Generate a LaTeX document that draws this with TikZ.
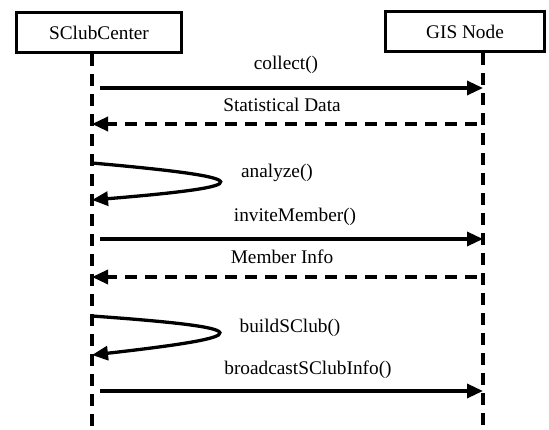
\documentclass[tikz,border=0pt]{standalone}
\usepackage{fontspec}
\setmainfont{Liberation Serif}
\newfontfamily\labelfont{Liberation Serif}
\usetikzlibrary{arrows.meta}
\begin{document}
\begin{tikzpicture}[x=1pt,y=-1pt,
  txt/.style={font=\labelfont\fontsize{19.3}{22}\selectfont},
  actor/.style={txt, draw, line width=3.3pt, minimum height=40pt, inner sep=0pt},
  lifeline/.style={line width=3.3pt, dash pattern=on 12pt off 8pt},
  msg/.style={line width=3.3pt, -{Triangle[length=16pt,width=14pt]}},
  reply/.style={msg, dash pattern=on 12pt off 8pt},
  lbl/.style={txt, inner sep=0pt}]
\useasboundingbox (0,0) rectangle (549,430);

% participants
\node[actor, minimum width=165pt] (center) at (99,32.5) {SClubCenter};
\node[actor, minimum width=159pt] (gis) at (465,31.5) {GIS Node};

% lifelines
\coordinate (cTop) at (92,54);
\coordinate (cBot) at (92,431);
\coordinate (gTop) at (483,53);
\coordinate (gBot) at (483,431);
\draw[lifeline] (cTop) -- (cBot);
\draw[lifeline] (gTop) -- (gBot);

% message end points
\coordinate (m1a) at (100,88);  \coordinate (m1b) at (483,88);
\coordinate (m2a) at (477,124); \coordinate (m2b) at (92,124);
\coordinate (s1a) at (92,163);  \coordinate (s1b) at (92,200);
\coordinate (m3a) at (100,239); \coordinate (m3b) at (483,239);
\coordinate (m4a) at (477,277); \coordinate (m4b) at (92,277);
\coordinate (s2a) at (92,316);  \coordinate (s2b) at (92,355);
\coordinate (m5a) at (100,391); \coordinate (m5b) at (483,391);

% messages
\draw[msg] (m1a) -- (m1b);
\draw[reply] (m2a) -- (m2b);
\draw[msg] (s1a) .. controls (261,178) and (261,186) .. (s1b);
\draw[msg] (m3a) -- (m3b);
\draw[reply] (m4a) -- (m4b);
\draw[msg] (s2a) .. controls (260,328) and (260,336) .. (s2b);
\draw[msg] (m5a) -- (m5b);

% labels
\node[lbl] (l1) at (286,65) {collect()};
\node[lbl] (l2) at (282,105) {Statistical Data};
\node[lbl] (l3) at (277,173) {analyze()};
\node[lbl] (l4) at (295,217) {inviteMember()};
\node[lbl] (l5) at (282,257) {Member Info};
\node[lbl] (l6) at (290,328) {buildSClub()};
\node[lbl] (l7) at (308,370) {broadcastSClubInfo()};
\end{tikzpicture}
\end{document}
